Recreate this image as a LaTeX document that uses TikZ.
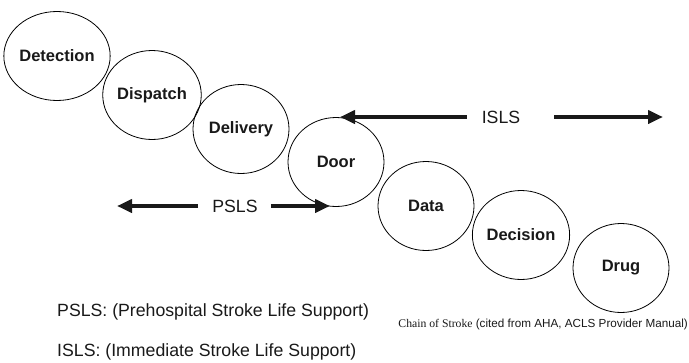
\documentclass[tikz,border=0pt]{standalone}
\usepackage{fontspec}
\setmainfont{Liberation Sans}
\newfontfamily\capserif{Liberation Serif}
\usetikzlibrary{shapes.geometric,arrows.meta}
\tikzset{
  link/.style={draw, ellipse, line width=0.8pt, minimum width=96pt, minimum height=89pt, inner sep=0pt,
    font=\fontsize{16.5}{19}\selectfont\bfseries, text=black!90},
  lbl/.style={inner sep=0pt, font=\fontsize{17.7}{20}\selectfont, text=black!90},
  bigarrow/.style={line width=4pt, draw=black!90, -{Triangle[length=15pt,width=13pt]}},
}
\begin{document}
\begin{tikzpicture}[x=1pt,y=-1pt]
\useasboundingbox (0,0) rectangle (689,362);
\node[link] (detection) at (57,56) {Detection};
\node[link] (dispatch) at (152,95) {Dispatch};
\node[link] (delivery) at (241,129) {Delivery};
\node[link] (door) at (336,162) {Door};
\node[link] (data) at (426,206) {Data};
\node[link] (decision) at (521,235) {Decision};
\node[link] (drug) at (621,268) {Drug};
% ISLS arrows
\node[lbl] (isls) at (501,117) {ISLS};
\coordinate (islsL) at (340,117);
\coordinate (islsR) at (663,117);
\draw[bigarrow, shorten <=15pt] (isls.west) -- (islsL);
\draw[bigarrow, shorten <=34pt] (isls.east) -- (islsR);
% PSLS arrows
\node[lbl] (psls) at (235,206) {PSLS};
\coordinate (pslsL) at (117,206);
\coordinate (pslsR) at (330,206);
\draw[bigarrow, shorten <=14pt] (psls.west) -- (pslsL);
\draw[bigarrow, shorten <=13pt] (psls.east) -- (pslsR);
% legend
\node[lbl, anchor=west] (pslsdef) at (57,312) {PSLS: (Prehospital Stroke Life Support)};
\node[lbl, anchor=west] (islsdef) at (57,352) {ISLS: (Immediate Stroke Life Support)};
\node[inner sep=0pt, anchor=east, font=\fontsize{11.7}{13}\selectfont, text=black!90] (caption) at (688,324)
  {{\capserif Chain of Stroke} (cited from AHA, ACLS Provider Manual)};
\end{tikzpicture}
\end{document}
